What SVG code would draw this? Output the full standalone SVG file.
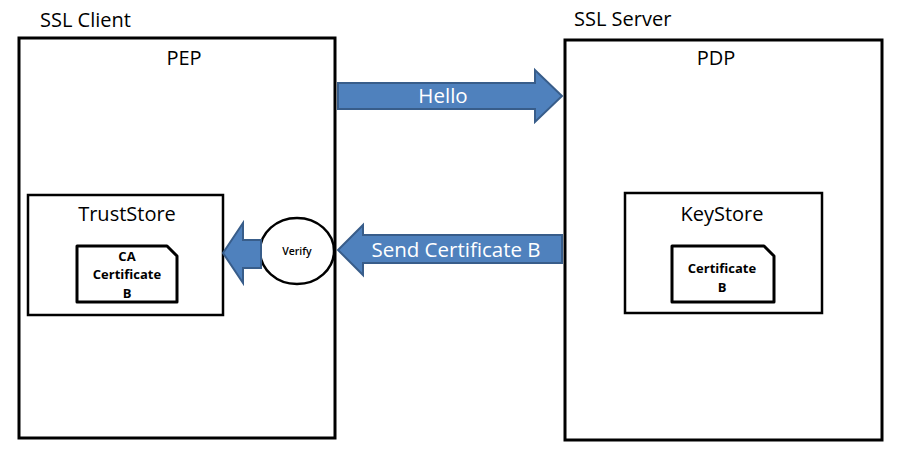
<svg xmlns="http://www.w3.org/2000/svg" width="900" height="457" viewBox="0 0 900 457">
<style>
.box{fill:#fff;stroke:#000;stroke-width:3}
.inner{fill:#fff;stroke:#000;stroke-width:2.5}
.doc{fill:#fff;stroke:#000;stroke-width:3;stroke-linejoin:round}
.arrow{fill:#4F81BD;stroke:#385D8A;stroke-width:2}
.t{font-family:"Open Sans","Noto Sans",sans-serif;fill:#000}
.lbl{font-size:20px}
.ttl{font-size:20px}
.w{fill:#fff;font-size:20.5px}
.b{font-family:"Open Sans","Noto Sans",sans-serif;font-weight:bold;font-size:13px;fill:#000}
</style>
<rect width="900" height="457" fill="#fff"/>
<g id="client">
<text class="t lbl" x="40" y="27">SSL Client</text>
<rect class="box" x="19" y="38" width="316" height="400"/>
<text class="t ttl" x="184" y="65" text-anchor="middle">PEP</text>
</g>
<g id="server">
<text class="t lbl" x="574" y="26">SSL Server</text>
<rect class="box" x="565" y="40" width="317" height="400"/>
<text class="t ttl" x="716" y="65" text-anchor="middle">PDP</text>
</g>
<g id="truststore">
<rect class="inner" x="28" y="195" width="195" height="120"/>
<text class="t ttl" x="127" y="221" text-anchor="middle">TrustStore</text>
<path class="doc" d="M77,246 H167 L177,256 V302 H77 Z"/>
<text class="b" x="127" y="261" text-anchor="middle">CA</text>
<text class="b" x="127" y="279" text-anchor="middle">Certificate</text>
<text class="b" x="127" y="298" text-anchor="middle">B</text>
</g>
<g id="keystore">
<rect class="inner" x="625" y="193" width="197" height="120"/>
<text class="t ttl" x="722" y="221" text-anchor="middle">KeyStore</text>
<path class="doc" d="M672,246 H764 L774,256 V302 H672 Z"/>
<text class="b" x="722" y="273" text-anchor="middle">Certificate</text>
<text class="b" x="722" y="292" text-anchor="middle">B</text>
</g>
<g id="verify">
<ellipse cx="297" cy="251" rx="37" ry="33" fill="#fff" stroke="#000" stroke-width="2.5"/>
<text class="t" x="297" y="255" text-anchor="middle" font-size="10.5" font-weight="600">Verify</text>
</g>
<g id="connectors">
<path class="arrow" d="M338,83 H535 V70 L562,96 L535,122 V109 H338 Z"/>
<text class="t w" x="443" y="103" text-anchor="middle">Hello</text>
<path class="arrow" d="M562,235 H363 V225 L338,250 L363,275 V263 H562 Z"/>
<text class="t w" x="456" y="257" text-anchor="middle">Send Certificate B</text>
<path class="arrow" d="M261,240 H243 V223 L223,253 L243,283 V268 H261 Z"/>
</g>
</svg>
